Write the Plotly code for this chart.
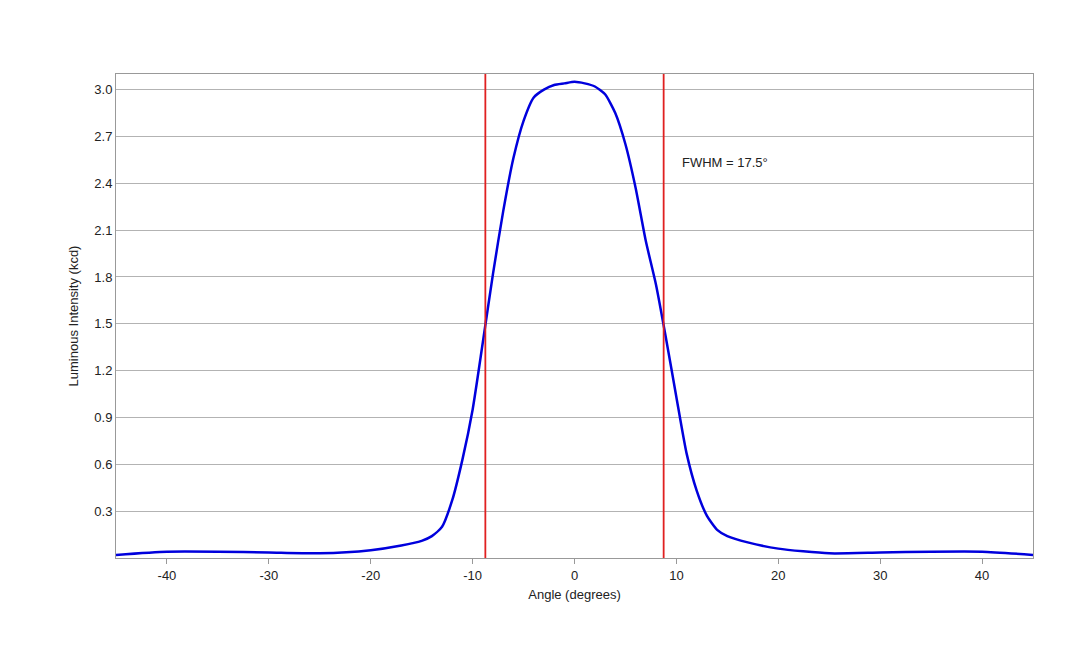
import plotly.graph_objects as go

angle = [-45, -40, -35, -30, -25, -20, -17, -15, -14, -13, -12, -11, -10, -9, -8, -7, -6, -5, -4, -3, -2, -1, 0,
         1, 2, 3, 4, 5, 6, 7, 8, 9, 10, 11, 12, 13, 14, 15, 17, 20, 25, 30, 35, 40, 45]
intensity = [0.02, 0.04, 0.04, 0.035, 0.03, 0.05, 0.08, 0.11, 0.14, 0.2, 0.37, 0.63, 0.95, 1.38, 1.82, 2.22, 2.56, 2.8, 2.95, 3.0, 3.03, 3.04, 3.05,
             3.04, 3.02, 2.97, 2.85, 2.65, 2.37, 2.03, 1.75, 1.4, 1.03, 0.67, 0.43, 0.27, 0.18, 0.14, 0.1, 0.06, 0.03, 0.035, 0.04, 0.04, 0.02]
fwhm_edges = [-8.75, 8.75]
y_ticks = [0.3, 0.6, 0.9, 1.2, 1.5, 1.8, 2.1, 2.4, 2.7, 3.0]
x_ticks = [-40, -30, -20, -10, 0, 10, 20, 30, 40]
x_labels = ["-40", "-30", "-20", "-10", "0", "10", "20", "30", "40"]

fig = go.Figure()
fig.add_trace(go.Scatter(x=angle, y=intensity, mode="lines",
                         line=dict(color="#0000dd", width=2.5, shape="spline", smoothing=0.6)))
for e in fwhm_edges:
    fig.add_trace(go.Scatter(x=[e, e], y=[0, 3.1], mode="lines", line=dict(color="#e02020", width=1.8)))

fig.add_annotation(x=10.4, y=2.53, text="FWHM = 17.5°", showarrow=False, xanchor="left",
                   font=dict(size=13, color="#222"))

fig.update_layout(
    width=1080, height=648, showlegend=False,
    plot_bgcolor="white", paper_bgcolor="white",
    margin=dict(l=108, r=55, t=66, b=98, autoexpand=False),
    font=dict(family="Liberation Sans, Arial", size=13, color="#222"),
    xaxis=dict(range=[-45, 45], tickvals=x_ticks, ticktext=x_labels, showgrid=False, zeroline=False,
               showline=True, linecolor="#999", mirror=True, ticks="outside", tickcolor="#999",
               automargin=False, title=dict(text="Angle (degrees)", standoff=8, font=dict(size=13))),
    yaxis=dict(range=[0, 3.1], tickvals=y_ticks, tickformat=".1f", showgrid=True, gridcolor="#b3b3b3",
               zeroline=False, showline=True, linecolor="#999", mirror=True, automargin=False,
               title=dict(text="Luminous Intensity (kcd)", standoff=12, font=dict(size=13))),
)
fig.write_html("out.html")
